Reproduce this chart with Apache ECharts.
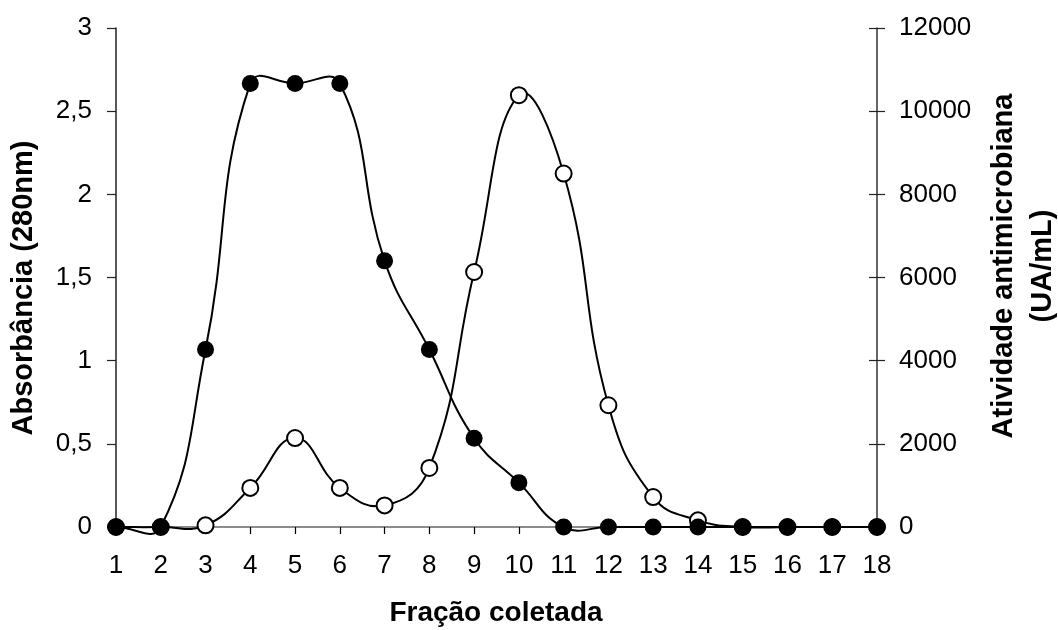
<!DOCTYPE html>
<html>
<head>
<meta charset="utf-8">
<script src="https://cdn.jsdelivr.net/npm/echarts@6/dist/echarts.min.js"></script>
<style>
html,body{margin:0;padding:0;background:#fff;}
#chart{width:1058px;height:630px;}
</style>
</head>
<body>
<div id="chart"></div>
<script>
const fractions = ['1','2','3','4','5','6','7','8','9','10','11','12','13','14','15','16','17','18'];
const absorbance = [0, 0, 0.01, 0.235, 0.535, 0.235, 0.13, 0.355, 1.533, 2.596, 2.125, 0.732, 0.18, 0.04, 0, 0, 0, 0];
const activity = [0, 0, 4267, 10667, 10667, 10667, 6400, 4267, 2133, 1067, 0, 0, 0, 0, 0, 0, 0, 0];
const leftTicks = {min: 0, max: 3, interval: 0.5};
const rightTicks = {min: 0, max: 12000, interval: 2000};
const xTitle = 'Fração coletada';
const leftTitle = 'Absorbância (280nm)';
const rightTitle = 'Atividade antimicrobiana\n(UA/mL)';

const FONT = '"Liberation Sans", Arial, sans-serif';
const chart = echarts.init(document.getElementById('chart'), null, {renderer: 'canvas'});
const tickFont = {color: '#000', fontFamily: FONT, fontSize: 26};

// Excel-like smoothed curve: cubic Bezier segments whose control points come
// from the neighbouring points, mapped through the axes with api.coord.
function smoothRenderer(values) {
  const T = 0.45;
  return function (params, api) {
    const i = params.dataIndex;
    const n = values.length;
    if (i >= n - 1) return null;
    const P = k => api.coord([Math.max(0, Math.min(n - 1, k)), values[Math.max(0, Math.min(n - 1, k))]]);
    const p0 = P(i - 1), p1 = P(i), p2 = P(i + 1), p3 = P(i + 2);
    const d = (a, b) => Math.hypot(b[0] - a[0], b[1] - a[1]);
    const d01 = d(p0, p1), d12 = d(p1, p2), d23 = d(p2, p3);
    const f1 = (d01 + d12) > 0 ? T * d12 / (d01 + d12) : 0;
    const f2 = (d12 + d23) > 0 ? T * d12 / (d12 + d23) : 0;
    return {
      type: 'bezierCurve',
      shape: {
        x1: p1[0], y1: p1[1], x2: p2[0], y2: p2[1],
        cpx1: p1[0] + (p2[0] - p0[0]) * f1, cpy1: p1[1] + (p2[1] - p0[1]) * f1,
        cpx2: p2[0] - (p3[0] - p1[0]) * f2, cpy2: p2[1] - (p3[1] - p1[1]) * f2
      },
      style: {stroke: '#000', lineWidth: 2, fill: null},
      silent: true
    };
  };
}

chart.setOption({
  animation: false,
  backgroundColor: '#fff',
  grid: {left: 116, right: 181, top: 28, bottom: 103, containLabel: false},
  xAxis: [{
    type: 'category',
    data: fractions,
    boundaryGap: false,
    position: 'bottom',
    axisLine: {lineStyle: {color: '#000', width: 1.5}},
    axisTick: {show: true, inside: false, length: 7, lineStyle: {color: '#000', width: 1.2}},
    axisLabel: Object.assign({margin: 26}, tickFont),
    splitLine: {show: false}
  }, {
    type: 'category',
    data: fractions,
    boundaryGap: false,
    position: 'top',
    axisLine: {lineStyle: {color: '#8c8c8c', width: 2}},
    axisTick: {show: false},
    axisLabel: {show: false},
    splitLine: {show: false}
  }],
  yAxis: [{
    type: 'value',
    position: 'left',
    min: leftTicks.min, max: leftTicks.max, interval: leftTicks.interval,
    axisLine: {show: true, lineStyle: {color: '#222', width: 1.5}},
    axisTick: {show: true, inside: false, length: 9, lineStyle: {color: '#222', width: 1.2}},
    axisLabel: Object.assign({margin: 24, formatter: v => String(v).replace('.', ',')}, tickFont),
    splitLine: {show: false}
  }, {
    type: 'value',
    position: 'right',
    min: rightTicks.min, max: rightTicks.max, interval: rightTicks.interval,
    axisLine: {show: true, lineStyle: {color: '#333', width: 1.5}},
    axisTick: {show: true, inside: false, length: 8, lineStyle: {color: '#222', width: 1.2}},
    axisLabel: Object.assign({margin: 22, formatter: v => String(v)}, tickFont),
    splitLine: {show: false}
  }, {
    type: 'value',
    position: 'right',
    min: rightTicks.min, max: rightTicks.max, interval: rightTicks.interval,
    axisLine: {show: false},
    axisTick: {show: true, inside: true, length: 8, lineStyle: {color: '#222', width: 1.2}},
    axisLabel: {show: false},
    splitLine: {show: false}
  }],
  graphic: [{
    type: 'text', x: 24, y: 288, rotation: Math.PI / 2,
    style: {text: leftTitle, font: 'bold 29px ' + FONT, fill: '#000', align: 'center', verticalAlign: 'middle'}
  }, {
    type: 'text', x: 1023, y: 266, rotation: Math.PI / 2,
    style: {text: rightTitle, font: 'bold 29px ' + FONT, fill: '#000', align: 'center', verticalAlign: 'middle', lineHeight: 39}
  }, {
    type: 'text', x: 496, y: 613,
    style: {text: xTitle, font: 'bold 28px ' + FONT, fill: '#000', align: 'center', verticalAlign: 'middle'}
  }],
  series: [{
    name: 'Absorbância curva',
    type: 'custom',
    xAxisIndex: 0, yAxisIndex: 0,
    data: absorbance.map((v, i) => [i, v]),
    renderItem: smoothRenderer(absorbance),
    z: 2
  }, {
    name: 'Atividade curva',
    type: 'custom',
    xAxisIndex: 0, yAxisIndex: 1,
    data: activity.map((v, i) => [i, v]),
    renderItem: smoothRenderer(activity),
    z: 3
  }, {
    name: 'Absorbância',
    type: 'line',
    xAxisIndex: 0, yAxisIndex: 0,
    data: absorbance,
    symbol: 'circle',
    symbolSize: 16,
    showAllSymbol: true,
    lineStyle: {opacity: 0, width: 0},
    itemStyle: {color: '#fff', borderColor: '#000', borderWidth: 2},
    z: 4
  }, {
    name: 'Atividade',
    type: 'line',
    xAxisIndex: 0, yAxisIndex: 1,
    data: activity,
    symbol: 'circle',
    symbolSize: 17,
    showAllSymbol: true,
    lineStyle: {opacity: 0, width: 0},
    itemStyle: {color: '#000', borderColor: '#000', borderWidth: 0},
    z: 5
  }]
});
</script>
</body>
</html>
